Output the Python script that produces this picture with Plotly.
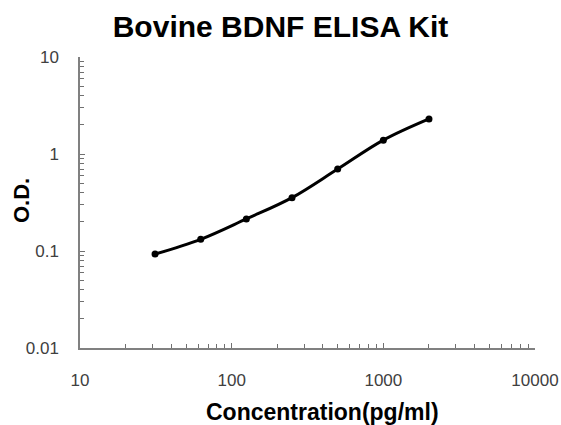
import plotly.graph_objects as go

concentration = [31.25, 62.5, 125, 250, 500, 1000, 2000]
od_values = [0.093, 0.132, 0.214, 0.355, 0.70, 1.39, 2.30]

x_tick_vals = [10, 100, 1000, 10000]
x_tick_text = ["10", "100", "1000", "10000"]
y_tick_vals = [0.01, 0.1, 1, 10]
y_tick_text = ["0.01", "0.1", "1", "10"]

x_minor = [m * 10 ** e for e in range(1, 4) for m in range(2, 10)]
y_minor = [m * 10 ** e for e in range(-2, 1) for m in range(2, 10)]

FONT = "Liberation Sans, Arial, sans-serif"
W, H = 561, 425
L, R, T, B = 80, 26, 57, 77

fig = go.Figure()
fig.add_trace(go.Scatter(
    x=concentration, y=od_values, mode="lines+markers",
    line=dict(color="black", width=3, shape="spline", smoothing=1.0),
    marker=dict(color="black", size=7),
    showlegend=False,
))

axis_font = dict(family=FONT, size=17, color="#404040")

fig.update_layout(
    width=W, height=H,
    margin=dict(l=L, r=R, t=T, b=B),
    paper_bgcolor="white", plot_bgcolor="white",
    title=dict(text="<b>Bovine BDNF ELISA Kit</b>", x=0.5, xanchor="center",
               y=1 - 26 / H, yanchor="middle",
               font=dict(family=FONT, size=30, color="black")),
    xaxis=dict(
        type="log", range=[1, 4], automargin=False,
        tickvals=x_tick_vals, ticktext=x_tick_text,
        ticks="inside", ticklen=5, tickcolor="#707070", tickwidth=1,
        minor=dict(tickvals=x_minor, ticks="inside", ticklen=4, tickcolor="#707070", showgrid=False),
        showline=True, linecolor="#808080", linewidth=1.5,
        showgrid=False, zeroline=False,
        tickfont=axis_font, ticklabelstandoff=16,
    ),
    yaxis=dict(
        type="log", range=[-2, 1], automargin=False,
        tickvals=y_tick_vals, ticktext=y_tick_text,
        ticks="inside", ticklen=5, tickcolor="#707070", tickwidth=1,
        minor=dict(tickvals=y_minor, ticks="inside", ticklen=4, tickcolor="#707070", showgrid=False),
        showline=True, linecolor="#808080", linewidth=1.5,
        showgrid=False, zeroline=False,
        tickfont=axis_font, ticklabelstandoff=16,
    ),
    annotations=[
        dict(text="<b>Concentration(pg/ml)</b>", xref="paper", yref="paper",
             x=(322 - L) / (W - L - R), y=-(412 - (H - B)) / (H - T - B),
             xanchor="center", yanchor="middle", showarrow=False,
             font=dict(family=FONT, size=23, color="black")),
        dict(text="<b>O.D.</b>", xref="paper", yref="paper",
             x=-(L - 21) / (W - L - R), y=(H - B - 200) / (H - T - B),
             xanchor="center", yanchor="middle", showarrow=False, textangle=-90,
             font=dict(family=FONT, size=22, color="black")),
    ],
)

fig.write_html(
    "out.html",
    config={"displayModeBar": False},
    post_script="document.body.style.margin='0';document.body.style.overflow='hidden';",
)
